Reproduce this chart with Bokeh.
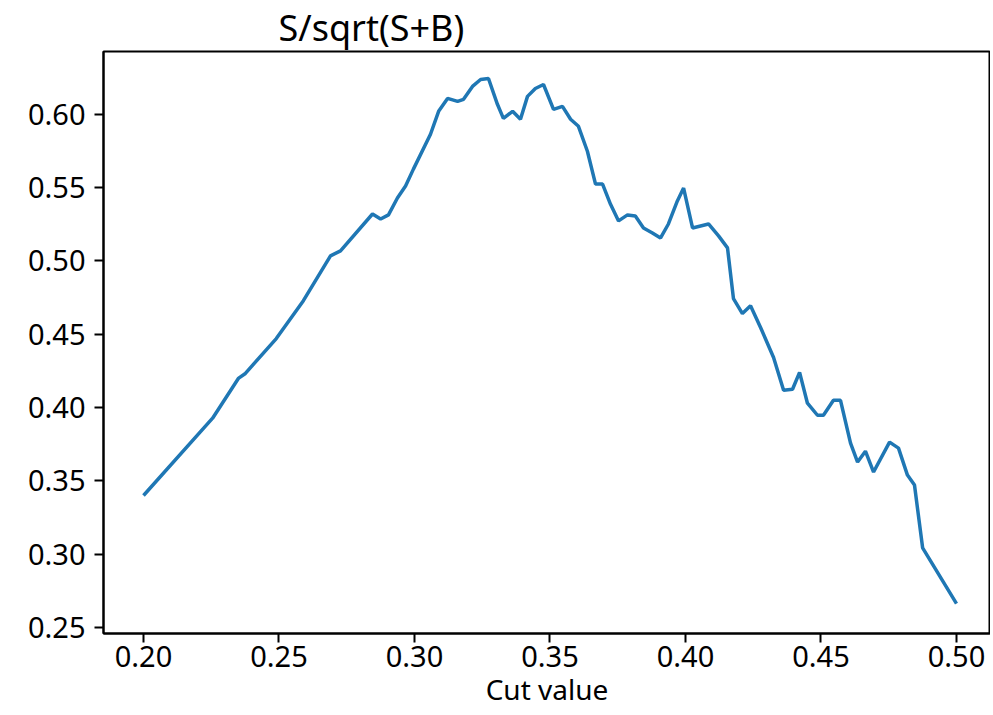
from bokeh.plotting import figure
from bokeh.models import FixedTicker, PrintfTickFormatter, Range1d
from bokeh.embed import file_html
from bokeh.resources import INLINE

# Cut value vs S/sqrt(S+B)
cut_values = [0.200, 0.2255, 0.235, 0.2376, 0.249, 0.259, 0.269, 0.2727, 0.2845, 0.2875,
              0.2904, 0.2937, 0.2967, 0.2996, 0.3059, 0.3089, 0.3122, 0.3159, 0.3181, 0.3214,
              0.3244, 0.3273, 0.3306, 0.3328, 0.3362, 0.3391, 0.3417, 0.3446, 0.3476, 0.3513,
              0.3546, 0.3576, 0.3605, 0.3638, 0.3668, 0.3694, 0.3723, 0.3753, 0.3786, 0.3815,
              0.3845, 0.3878, 0.3908, 0.3937, 0.3970, 0.3993, 0.4026, 0.4085, 0.4122, 0.4155,
              0.4177, 0.4210, 0.4240, 0.4277, 0.4325, 0.4362, 0.4395, 0.4421, 0.4450, 0.4487,
              0.4509, 0.4546, 0.4572, 0.4609, 0.4635, 0.4664, 0.4694, 0.4753, 0.4786, 0.4819,
              0.4845, 0.4875, 0.5000]
significance = [0.340, 0.3927, 0.4198, 0.4232, 0.447, 0.4728, 0.5034, 0.5068, 0.5319, 0.5285,
                0.5313, 0.5428, 0.5510, 0.5625, 0.5863, 0.6019, 0.6107, 0.6087, 0.6101, 0.6189,
                0.6236, 0.6243, 0.6067, 0.5971, 0.6019, 0.5965, 0.6121, 0.6175, 0.6202, 0.6033,
                0.6053, 0.5965, 0.5917, 0.5747, 0.5523, 0.5523, 0.5387, 0.5272, 0.5313, 0.5306,
                0.5224, 0.5190, 0.5156, 0.5251, 0.5408, 0.5496, 0.5224, 0.5251, 0.5170, 0.5088,
                0.4742, 0.4640, 0.4694, 0.4545, 0.4341, 0.4117, 0.4124, 0.4239, 0.4029, 0.3947,
                0.3947, 0.4049, 0.4049, 0.3757, 0.3628, 0.3702, 0.3560, 0.3764, 0.3723, 0.3539,
                0.3471, 0.3043, 0.2663]

x_ticks = [0.20, 0.25, 0.30, 0.35, 0.40, 0.45, 0.50]
y_ticks = [0.25, 0.30, 0.35, 0.40, 0.45, 0.50, 0.55, 0.60]

title_text = "S/sqrt(S+B)"
x_label = "Cut value"

FONT = "Noto Sans"

p = figure(width=990, height=710, output_backend="svg", toolbar_location=None,
           x_range=Range1d(0.18524, 0.51255), y_range=Range1d(0.2459, 0.6427),
           min_border_left=103, min_border_right=0, min_border_top=0, min_border_bottom=0,
           title=title_text)

p.line(cut_values, significance, line_color="#1f77b4", line_width=3.5)

p.title.text_font = FONT
p.title.text_font_size = "36px"
p.title.text_font_style = "normal"
p.title.text_color = "#000000"
p.title.align = "left"
p.title.offset = 175
p.title.standoff = 0

p.xgrid.visible = False
p.ygrid.visible = False
p.outline_line_color = "#000000"
p.outline_line_width = 2
p.outline_line_alpha = 1.0

for ax in (p.xaxis[0], p.yaxis[0]):
    ax.axis_line_color = "#000000"
    ax.axis_line_width = 2
    ax.major_tick_line_color = "#000000"
    ax.major_tick_line_width = 2
    ax.major_tick_out = 9
    ax.major_tick_in = 0
    ax.minor_tick_line_color = None
    ax.major_label_text_font = FONT
    ax.major_label_text_font_size = "29px"
    ax.major_label_text_color = "#000000"
    ax.formatter = PrintfTickFormatter(format="%.2f")

p.xaxis[0].ticker = FixedTicker(ticks=x_ticks)
p.yaxis[0].ticker = FixedTicker(ticks=y_ticks)
p.xaxis[0].major_label_standoff = 3
p.yaxis[0].major_label_standoff = 9

p.xaxis[0].axis_label = x_label
p.xaxis[0].axis_label_text_font = FONT
p.xaxis[0].axis_label_text_font_size = "28px"
p.xaxis[0].axis_label_text_font_style = "normal"
p.xaxis[0].axis_label_text_color = "#000000"
p.xaxis[0].axis_label_standoff = 0

p.background_fill_color = "#ffffff"
p.border_fill_color = "#ffffff"

open("out.html", "w").write(file_html(p, INLINE))
